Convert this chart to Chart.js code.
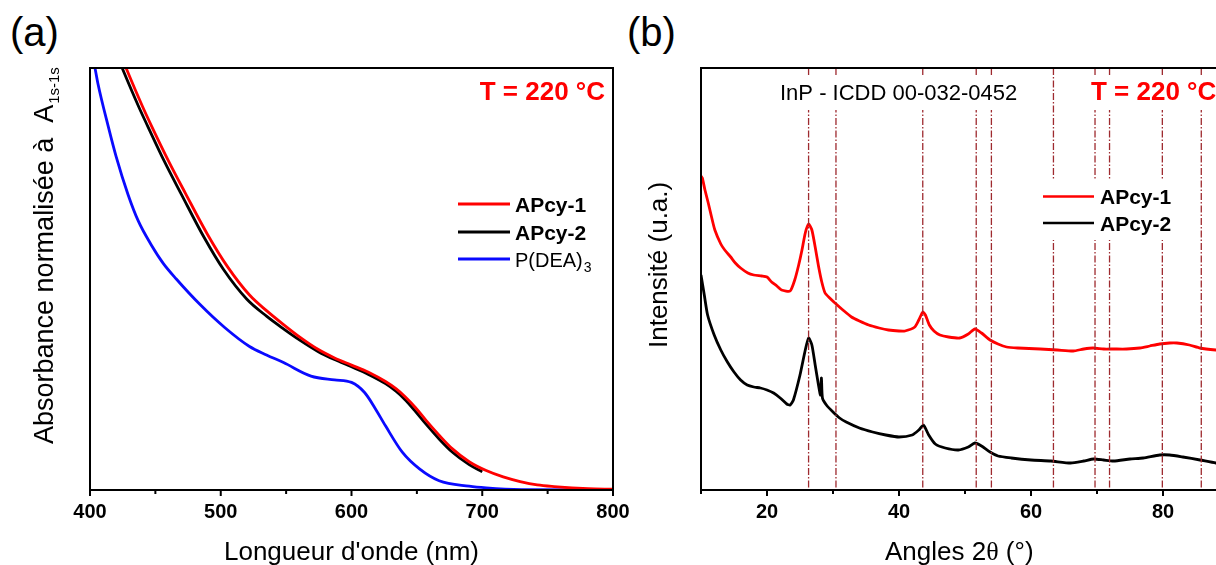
<!DOCTYPE html>
<html>
<head>
<meta charset="utf-8">
<script src="https://cdn.jsdelivr.net/npm/chart.js@4.4.0/dist/chart.umd.min.js"></script>
<style>
  html, body { margin: 0; padding: 0; background: #fff; overflow: hidden; width: 1216px; height: 565px; }
  canvas { position: absolute; top: 0; }
  .tag { position: absolute; top: 12px; font-family: "Liberation Sans", Arial, sans-serif; font-size: 40px; line-height: 40px; color: #000; }
</style>
</head>
<body>
<div class="tag" style="left:10px;">(a)</div>
<div class="tag" style="left:627px;">(b)</div>
<canvas id="uvChart" width="640" height="565" style="left:0px;"></canvas>
<canvas id="xrdChart" width="640" height="565" style="left:640px;"></canvas>
<script>
// (a) absorbance, normalised
const uvTicks = [400, 500, 600, 700, 800];

const apcy1Wl  = [425, 428, 440, 447, 460, 473, 490, 505, 522, 535, 548, 561, 574, 587, 600, 613, 626, 634, 641, 649, 657, 667, 677, 690, 703, 716, 729, 742, 755, 781, 800];
const apcy1Abs = [1.02, 0.997, 0.910, 0.863, 0.780, 0.703, 0.605, 0.530, 0.462, 0.425, 0.392, 0.361, 0.334, 0.313, 0.296, 0.279, 0.257, 0.240, 0.221, 0.195, 0.165, 0.130, 0.098, 0.067, 0.046, 0.031, 0.020, 0.012, 0.008, 0.003, 0.002];

const apcy2Wl  = [422, 425, 437, 444, 457, 470, 487, 502, 520, 535, 548, 561, 574, 587, 600, 613, 626, 634, 641, 649, 657, 667, 677, 690, 700];
const apcy2Abs = [1.02, 0.997, 0.910, 0.863, 0.778, 0.700, 0.600, 0.523, 0.452, 0.412, 0.382, 0.354, 0.329, 0.309, 0.292, 0.274, 0.252, 0.234, 0.214, 0.186, 0.156, 0.121, 0.090, 0.060, 0.043];

const deaWl  = [400, 404, 406, 414, 420, 429, 437, 447, 456, 466, 484, 503, 522, 535, 548, 569, 587, 600, 610, 618, 626, 639, 652, 667, 690, 703, 730, 800];
const deaAbs = [1.06, 0.997, 0.964, 0.861, 0.790, 0.701, 0.637, 0.580, 0.537, 0.500, 0.440, 0.385, 0.340, 0.320, 0.302, 0.270, 0.261, 0.255, 0.231, 0.194, 0.152, 0.089, 0.050, 0.022, 0.009, 0.005, 0.001, 0];

// (b) XRD, intensity in arbitrary units
const xrdTicks = [20, 40, 60, 80];
const inpPeaks = [26.3, 30.45, 43.6, 51.7, 54.0, 63.4, 69.7, 71.9, 79.9, 85.8];

const apcy1Angle  = [10, 10.2, 10.6, 11.1, 11.6, 12.1, 13, 13.6, 14.5, 15.2, 16, 17.1, 18, 19.2, 20, 20.7, 21.5, 22.2, 23.5, 24.2, 24.8, 25.3, 25.8, 26.3, 26.8, 27.3, 27.8, 28.3, 28.8, 29.5, 30.3, 31.5, 32.8, 34, 35.4, 37, 38.4, 40, 40.9, 42.4, 43, 43.6, 44, 44.6, 45.3, 46.2, 47.5, 49.2, 50.5, 51.5, 52.5, 53.8, 55, 56.3, 58, 61.4, 64, 66.4, 68, 69.4, 71, 72.5, 74.5, 76.5, 78, 79.5, 81, 82.1, 84, 85.6, 88, 90];
const apcy1Counts = [314, 312, 300, 287, 273, 260, 246, 240, 233, 227, 222, 217, 215, 214, 213, 208, 204, 200, 199, 210, 225, 240, 257, 266, 260, 243, 224, 208, 197, 192, 187, 180, 173, 169, 165, 162, 160, 159, 159, 163, 170, 178, 175, 165, 159, 155, 153, 152, 156, 161, 157, 150, 146, 143, 142, 141, 140, 139, 141, 142, 141, 141, 141, 142, 144, 146, 147, 147, 145, 142, 140, 139];

const apcy2Angle  = [10, 10.5, 11, 12, 13, 14, 15, 16, 17, 18, 19, 20, 21, 22, 23, 23.5, 24, 25, 25.8, 26.3, 26.8, 27.3, 27.8, 28.1, 28.25, 28.4, 29, 30, 31, 32, 34, 36, 38, 40, 42, 43, 43.7, 44.5, 45.5, 47, 49, 50.5, 51.5, 52.5, 53.8, 55, 57, 60, 63, 66, 68, 69.5, 71, 72.5, 75, 77, 79.5, 81, 83, 85.6, 88, 90];
const apcy2Counts = [215, 195, 175, 155, 140, 128, 118, 110, 105, 103, 102, 100, 97, 92, 86, 85, 90, 115, 140, 152, 145, 125, 105, 95, 112, 92, 85, 78, 72, 68, 62, 58, 55, 53, 55, 60, 65, 55, 46, 42, 40, 43, 47, 44, 38, 34, 32, 30, 29, 27, 29, 31, 30, 29, 31, 32, 35, 35, 33, 30, 27, 26];

const fontFamily = '"Liberation Sans", Arial, Helvetica, sans-serif';

function toPoints(xs, ys) {
    return xs.map((x, i) => ({ x: x, y: ys[i] }));
}

function setText(ctx, size, weight, color) {
    ctx.font = (weight || 'normal') + ' ' + size + 'px ' + fontFamily;
    ctx.fillStyle = color || '#000';
}

// box round the plot plus outward ticks on the bottom axis
function framePlugin(majors, minorStep) {
    return {
        id: 'frame',
        afterDraw(chart) {
            const ctx = chart.ctx;
            const a = chart.chartArea;
            const xs = chart.scales.x;
            ctx.save();
            ctx.strokeStyle = '#000';
            ctx.lineWidth = 2;
            ctx.strokeRect(a.left, a.top, a.right - a.left, a.bottom - a.top);
            for (let v = xs.min; v <= xs.max + 0.001; v += minorStep) {
                const px = xs.getPixelForValue(v);
                const len = majors.includes(v) ? 6 : 4;
                ctx.beginPath();
                ctx.moveTo(px, a.bottom);
                ctx.lineTo(px, a.bottom + len);
                ctx.stroke();
            }
            ctx.restore();
        }
    };
}

function legendLine(ctx, x1, x2, y, color, width) {
    ctx.strokeStyle = color;
    ctx.lineWidth = width;
    ctx.beginPath();
    ctx.moveTo(x1, y);
    ctx.lineTo(x2, y);
    ctx.stroke();
}

const uvNotes = {
    id: 'uvNotes',
    afterDraw(chart) {
        const ctx = chart.ctx;
        const ds = chart.data.datasets;
        ctx.save();

        setText(ctx, 26, 'bold', '#ff0000');
        ctx.textAlign = 'right';
        ctx.textBaseline = 'alphabetic';
        ctx.fillText('T = 220 °C', 605, 100);

        ctx.textAlign = 'left';
        const rows = [204, 232, 259];
        ds.forEach((d, i) => {
            legendLine(ctx, 458, 510, rows[i], d.borderColor, 3);
        });
        setText(ctx, 21, 'bold');
        ctx.fillText(ds[0].label, 515, rows[0] + 7.5);
        ctx.fillText(ds[1].label, 515, rows[1] + 7.5);
        setText(ctx, 20, 'normal');
        ctx.fillText('P(DEA)', 515, rows[2] + 7.5);
        const w = ctx.measureText('P(DEA)').width;
        setText(ctx, 14, 'normal');
        ctx.fillText('3', 515 + w + 1, rows[2] + 13);

        // axis titles
        setText(ctx, 26, 'normal');
        ctx.textAlign = 'center';
        const a = chart.chartArea;
        ctx.fillText("Longueur d'onde (nm)", (a.left + a.right) / 2, 560);

        ctx.translate(53, 444);
        ctx.rotate(-Math.PI / 2);
        ctx.textAlign = 'left';
        setText(ctx, 27, 'normal');
        const main = 'Absorbance normalisée à  A';
        ctx.fillText(main, 0, 0);
        const mw = ctx.measureText(main).width;
        setText(ctx, 15, 'normal');
        ctx.fillText('1s-1s', mw + 1, 6);
        ctx.restore();
    }
};

const xrdNotes = {
    id: 'xrdNotes',
    afterDatasetsDraw(chart) {
        const ctx = chart.ctx;
        const a = chart.chartArea;
        const xs = chart.scales.x;
        const ds = chart.data.datasets;
        ctx.save();

        // InP reference lines
        ctx.strokeStyle = '#9e2a2f';
        ctx.lineWidth = 1.3;
        ctx.setLineDash([7, 2, 1.5, 2]);
        inpPeaks.forEach(p => {
            const px = xs.getPixelForValue(p);
            ctx.beginPath();
            ctx.moveTo(px, a.top);
            ctx.lineTo(px, a.bottom);
            ctx.stroke();
        });
        ctx.setLineDash([]);

        // white boxes behind the labels
        ctx.fillStyle = '#fff';
        ctx.fillRect(135, 77, 245, 33);
        ctx.fillRect(445, 77, 160, 33);
        ctx.fillRect(400, 180, 140, 60);

        setText(ctx, 22, 'normal');
        ctx.textAlign = 'left';
        ctx.textBaseline = 'alphabetic';
        ctx.fillText('InP - ICDD 00-032-0452', 140, 100);

        setText(ctx, 26, 'bold', '#ff0000');
        ctx.fillText('T = 220 °C', 451, 100);

        const rows = [196.5, 223];
        setText(ctx, 21, 'bold');
        ds.forEach((d, i) => {
            legendLine(ctx, 403, 454, rows[i], d.borderColor, 2.5);
            ctx.fillText(d.label, 460, rows[i] + 7.5);
        });

        // axis titles
        setText(ctx, 26, 'normal');
        let x = 320 - 75;
        ctx.fillText('Angles 2', x, 560);
        x += ctx.measureText('Angles 2').width;
        ctx.font = 'normal 26px "Liberation Serif", "Times New Roman", serif';
        ctx.fillText('θ', x, 560);
        x += ctx.measureText('θ').width;
        setText(ctx, 26, 'normal');
        ctx.fillText(' (°)', x, 560);

        ctx.translate(27, 348);
        ctx.rotate(-Math.PI / 2);
        ctx.fillText('Intensité (u.a.)', 0, 0);
        ctx.restore();
    }
};

function bottomAxis(min, max, ticks, height) {
    return {
        type: 'linear',
        min: min,
        max: max,
        afterBuildTicks: s => { s.ticks = ticks.map(v => ({ value: v })); },
        afterFit: s => { s.height = height; },
        grid: { display: false, drawTicks: false },
        border: { display: false },
        ticks: {
            padding: 10,
            color: '#000',
            font: { family: fontFamily, size: 20, weight: 'bold' }
        }
    };
}

new Chart(document.getElementById('uvChart'), {
    type: 'line',
    data: {
        datasets: [
            { label: 'APcy-1', data: toPoints(apcy1Wl, apcy1Abs), borderColor: '#ff0000', borderWidth: 2.8, cubicInterpolationMode: 'monotone' },
            { label: 'APcy-2', data: toPoints(apcy2Wl, apcy2Abs), borderColor: '#000000', borderWidth: 2.8, cubicInterpolationMode: 'monotone' },
            { label: 'P(DEA)3', data: toPoints(deaWl, deaAbs), borderColor: '#0a0aff', borderWidth: 2.8, cubicInterpolationMode: 'monotone' }
        ]
    },
    options: {
        responsive: false,
        animation: false,
        elements: { point: { radius: 0 } },
        layout: { padding: { left: 90, top: 68, right: 27, bottom: 0 } },
        plugins: { legend: { display: false }, tooltip: { enabled: false } },
        scales: {
            x: bottomAxis(400, 800, uvTicks, 75),
            y: { display: false, min: 0, max: 1 }
        }
    },
    plugins: [framePlugin(uvTicks, 50), uvNotes]
});

new Chart(document.getElementById('xrdChart'), {
    type: 'line',
    data: {
        datasets: [
            { label: 'APcy-1', data: toPoints(apcy1Angle, apcy1Counts), borderColor: '#ff0000', borderWidth: 2.8, tension: 0.2 },
            { label: 'APcy-2', data: toPoints(apcy2Angle, apcy2Counts), borderColor: '#000000', borderWidth: 2.8, tension: 0.2 }
        ]
    },
    options: {
        responsive: false,
        animation: false,
        elements: { point: { radius: 0 } },
        layout: { padding: { left: 61, top: 68, right: 51, bottom: 0 } },
        plugins: { legend: { display: false }, tooltip: { enabled: false } },
        scales: {
            x: bottomAxis(10, 90, xrdTicks, 75),
            y: { display: false, min: 0, max: 422 }
        }
    },
    plugins: [framePlugin(xrdTicks, 10), xrdNotes]
});
</script>
</body>
</html>
